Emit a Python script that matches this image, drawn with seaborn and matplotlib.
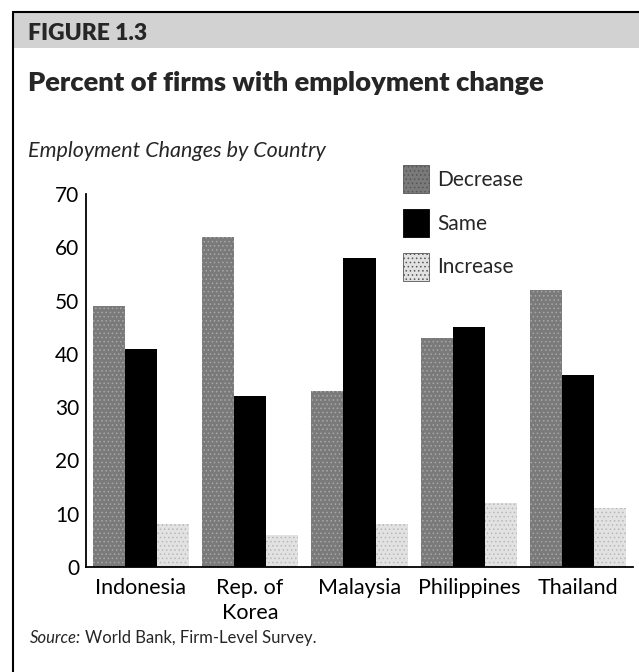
import matplotlib
matplotlib.use("Agg")
import matplotlib.pyplot as plt
import seaborn as sns
import pandas as pd
from matplotlib.lines import Line2D
from matplotlib.patches import Rectangle

# Survey results: share of firms (%) by direction of employment change
countries = ["Indonesia", "Rep. of\nKorea", "Malaysia", "Philippines", "Thailand"]
changes = ["Decrease", "Same", "Increase"]
decrease = [49, 62, 33, 43, 52]
same = [41, 32, 58, 45, 36]
increase = [8, 6, 8, 12, 11]
y_ticks = [0, 10, 20, 30, 40, 50, 60, 70]

df = pd.DataFrame({
    "country": countries * 3,
    "change": [c for c in changes for _ in countries],
    "percent": decrease + same + increase,
})

palette = {"Decrease": "#7a7a7a", "Same": "#000000", "Increase": "#e2e2e2"}
hatches = {"Decrease": "....", "Same": None, "Increase": "...."}
hatch_colors = {"Decrease": "#a8a8a8", "Same": "black", "Increase": "#b8b8b8"}

sns.set_theme(style="white")
plt.rcParams["font.family"] = ["Lato", "DejaVu Sans"]
plt.rcParams["hatch.linewidth"] = 0.6

W, H = 639, 672
fig = plt.figure(figsize=(W / 100, H / 100), dpi=100)
fig.patch.set_facecolor("white")

# Header band and frame lines
fig.add_artist(Rectangle((13 / W, 1 - 48 / H), 1 - 13 / W, 36 / H,
                         transform=fig.transFigure, facecolor="#d2d2d2",
                         edgecolor="none", zorder=0))
fig.add_artist(Line2D([13 / W, 1], [1 - 12 / H, 1 - 12 / H],
                      transform=fig.transFigure, color="black", lw=1.5))
fig.add_artist(Line2D([13 / W, 13 / W], [0, 1 - 12 / H],
                      transform=fig.transFigure, color="black", lw=1.5))

fig.text(28 / W, 1 - 40 / H, "FIGURE 1.3", fontsize=16.5, fontweight="heavy",
         va="baseline", ha="left")
fig.text(28 / W, 1 - 91 / H, "Percent of firms with employment change",
         fontsize=19.7, fontweight="heavy", va="baseline", ha="left")
fig.text(28 / W, 1 - 157 / H, "Employment Changes by Country",
         fontsize=15.5, fontstyle="italic", va="baseline", ha="left")
src = fig.text(30 / W, 1 - 643 / H, "Source:", fontsize=12,
               fontstyle="italic", va="baseline", ha="left")
fig.canvas.draw()
src_w = src.get_window_extent().width
fig.text((30 + src_w + 4) / W, 1 - 643 / H, "World Bank, Firm-Level Survey.",
         fontsize=12, va="baseline", ha="left")

ax = fig.add_axes([86 / W, 1 - 567 / H, 547 / W, 373 / H])
sns.barplot(data=df, x="country", y="percent", hue="change",
            hue_order=changes, order=countries, palette=palette,
            width=0.88, gap=0, saturation=1, edgecolor="none",
            linewidth=0, ax=ax)

# Stippled look for the grey series
for container, name in zip(ax.containers, changes):
    for bar in container:
        if hatches[name]:
            bar.set_hatch(hatches[name])
            bar.set_edgecolor(hatch_colors[name])
            bar.set_linewidth(0)

ax.set_xlim(-0.5, 4.5)
ax.set_ylim(0, 70)
ax.set_yticks(y_ticks)
ax.set_xlabel("")
ax.set_ylabel("")
ax.tick_params(axis="y", labelsize=15, length=0, pad=5, colors="black")
ax.tick_params(axis="x", labelsize=15.5, length=0, pad=8, colors="black")
for lbl in ax.get_xticklabels():
    lbl.set_linespacing(1.3)
sns.despine(ax=ax, top=True, right=True)
for side in ("left", "bottom"):
    ax.spines[side].set_color("black")
    ax.spines[side].set_linewidth(1.3)
ax.set_facecolor("none")

leg = ax.legend(loc="upper left", bbox_to_anchor=(403 / W, 1 - 165 / H),
                bbox_transform=fig.transFigure, frameon=False, fontsize=15,
                handlelength=1.25, handleheight=1.7, handletextpad=0.4,
                labelspacing=0.75, borderpad=0, borderaxespad=0)
for h, name in zip(leg.legend_handles, changes):
    if hatches[name]:
        h.set_hatch(hatches[name])
    h.set_edgecolor("#555555" if name != "Same" else "black")
    h.set_linewidth(0.6)

fig.savefig("out.png", dpi=100, facecolor="white")
